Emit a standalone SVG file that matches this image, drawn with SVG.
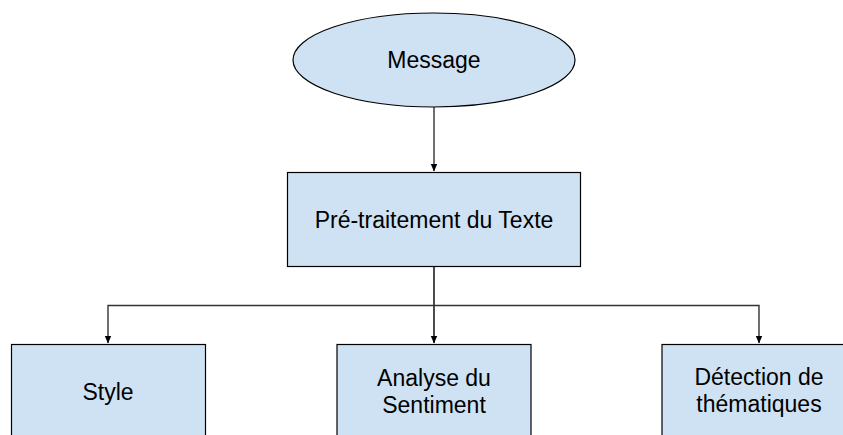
<svg xmlns="http://www.w3.org/2000/svg" width="843" height="435" viewBox="0 0 843 435">
<style>
.node{fill:#cfe2f3;stroke:#000;stroke-width:1.2}
.lbl{font-family:"Liberation Sans",Arial,sans-serif;font-size:23px;fill:#000;text-anchor:middle}
.edge{fill:none;stroke:#333;stroke-width:1.4}
</style>
<defs>
<marker id="ah" markerWidth="8" markerHeight="8" refX="7" refY="4" orient="auto" markerUnits="userSpaceOnUse">
<path d="M0,0.8 L7.5,4 L0,7.2 Z" fill="#000"/>
</marker>
</defs>
<rect width="843" height="435" fill="#fff"/>
<g id="connectors">
<path class="edge" d="M434,107 L434,171" marker-end="url(#ah)"/>
<path class="edge" d="M434,267 L434,343" marker-end="url(#ah)" style="stroke:#000"/>
<path class="edge" d="M434,305.5 L108,305.5 L108,343" marker-end="url(#ah)"/>
<path class="edge" d="M434,305.5 L759,305.5 L759,343" marker-end="url(#ah)"/>
</g>
<g id="message">
<ellipse class="node" cx="434" cy="60" rx="141" ry="47"/>
<text class="lbl" x="434" y="68">Message</text>
</g>
<g id="pretraitement">
<rect class="node" x="287.5" y="172.5" width="293" height="94"/>
<text class="lbl" x="434" y="228">Pré-traitement du Texte</text>
</g>
<g id="style">
<rect class="node" x="11.5" y="344.5" width="194" height="100"/>
<text class="lbl" x="108" y="400">Style</text>
</g>
<g id="sentiment">
<rect class="node" x="337" y="344.5" width="194" height="100"/>
<text class="lbl" x="434" y="386">Analyse du</text>
<text class="lbl" x="434" y="412.5">Sentiment</text>
</g>
<g id="thematiques">
<rect class="node" x="662" y="344.5" width="194" height="100"/>
<text class="lbl" x="759" y="385">Détection de</text>
<text class="lbl" x="759" y="411.5">thématiques</text>
</g>
</svg>
